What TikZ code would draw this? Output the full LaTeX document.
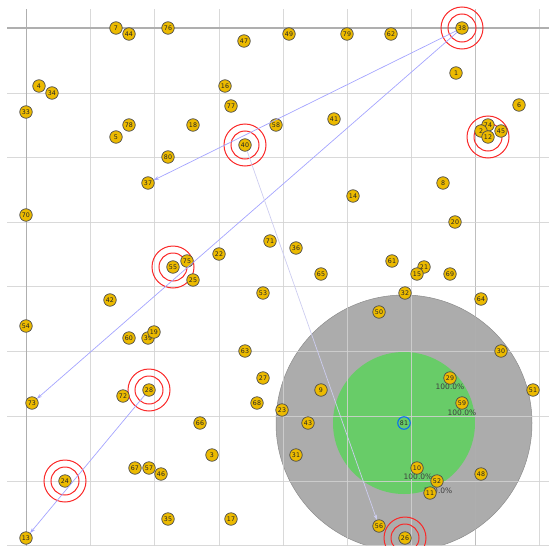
\documentclass[tikz,border=0pt]{standalone}
\usepackage{fontspec}
\setmainfont{DejaVu Sans}
\usetikzlibrary{arrows.meta}
\definecolor{gold}{RGB}{236,186,0}
\definecolor{ringred}{RGB}{250,40,40}
\definecolor{linkblue}{RGB}{165,165,255}
\definecolor{faintblue}{RGB}{205,205,240}
\definecolor{zonegray}{RGB}{172,172,172}
\definecolor{zonegreen}{RGB}{104,204,104}
\definecolor{gridc}{RGB}{210,210,210}
\definecolor{axisc}{RGB}{175,175,175}
\tikzset{
  nd/.style={circle, draw=black!70, fill=gold, line width=0.7pt, minimum size=12.5pt, inner sep=0pt, font=\fontsize{6.3}{6.3}\selectfont, text=black!85},
  hub/.style={nd, fill=zonegreen, draw=blue!60!cyan, line width=1pt},
  pct/.style={font=\fontsize{7.5}{7.5}\selectfont, text=black!75, inner sep=0pt},
  ring/.style={draw=ringred, line width=1pt},
  gridline/.style={draw=gridc, line width=1pt},
  axisline/.style={draw=axisc, line width=1pt},
  link/.style={draw=linkblue, line width=0.7pt, -{Stealth[length=5pt,width=3.5pt]}},
  flink/.style={draw=faintblue, line width=0.7pt, -{Stealth[length=5pt,width=3.5pt]}}
}
\begin{document}
\begin{tikzpicture}[x=1pt,y=-1pt]
\useasboundingbox (0,0) rectangle (549,546);
% coverage zones
\fill[zonegray, draw=black!45, line width=0.5pt] (404,423) circle (128);
\fill[zonegreen] (404,423) circle (71);
% grid
\foreach \x in {90,154,219,283,347,411,539} \draw[gridline, opacity=0.85] (\x,9) -- (\x,546);
\draw[axisline, opacity=0.8] (475,9) -- (475,546);
\foreach \y in {93,157,222,286,351,416,481,545} \draw[gridline, opacity=0.85] (7,\y) -- (549,\y);
\draw[axisline] (26,9) -- (26,546);
\draw[axisline, line width=1.4pt] (7,28) -- (549,28);
% target rings
\foreach \p in {(462,28),(245,145),(488,137),(173,267),(149,390),(65,481),(405,538)} {
  \draw[ring] \p circle (21);
  \draw[ring] \p circle (14);
}
% percentage labels (under nodes)
\node[pct] (p29) at (450,387) {100.0\%};
\node[pct] (p59) at (462,413) {100.0\%};
\node[pct] (p10) at (418,477) {100.0\%};
\node[pct] (p11) at (438,491) {100.0\%};
% nodes
\node[nd] (n7) at (116,28) {7};
\node[nd] (n44) at (129,34) {44};
\node[nd] (n76) at (168,28) {76};
\node[nd] (n47) at (244,41) {47};
\node[nd] (n49) at (289,34) {49};
\node[nd] (n79) at (347,34) {79};
\node[nd] (n62) at (391,34) {62};
\node[nd] (n38) at (462,28) {38};
\node[nd] (n4) at (39,86) {4};
\node[nd] (n34) at (52,93) {34};
\node[nd] (n33) at (26,112) {33};
\node[nd] (n16) at (225,86) {16};
\node[nd] (n1) at (456,73) {1};
\node[nd] (n6) at (519,105) {6};
\node[nd] (n77) at (231,106) {77};
\node[nd] (n78) at (129,125) {78};
\node[nd] (n18) at (193,125) {18};
\node[nd] (n58) at (276,125) {58};
\node[nd] (n41) at (334,119) {41};
\node[nd] (n5) at (116,137) {5};
\node[nd] (n40) at (245,145) {40};
\node[nd] (n74) at (488,125) {74};
\node[nd] (n2) at (481,131) {2};
\node[nd] (n45) at (501,131) {45};
\node[nd] (n12) at (488,137) {12};
\node[nd] (n80) at (168,157) {80};
\node[nd] (n37) at (148,183) {37};
\node[nd] (n8) at (443,183) {8};
\node[nd] (n14) at (353,196) {14};
\node[nd] (n70) at (26,215) {70};
\node[nd] (n20) at (455,222) {20};
\node[nd] (n71) at (270,241) {71};
\node[nd] (n36) at (296,248) {36};
\node[nd] (n22) at (219,254) {22};
\node[nd] (n61) at (392,261) {61};
\node[nd] (n55) at (173,267) {55};
\node[nd] (n75) at (187,261) {75};
\node[nd] (n21) at (424,267) {21};
\node[nd] (n15) at (417,274) {15};
\node[nd] (n69) at (450,274) {69};
\node[nd] (n65) at (321,274) {65};
\node[nd] (n25) at (193,280) {25};
\node[nd] (n53) at (263,293) {53};
\node[nd] (n32) at (405,293) {32};
\node[nd] (n64) at (481,299) {64};
\node[nd] (n42) at (110,300) {42};
\node[nd] (n50) at (379,312) {50};
\node[nd] (n54) at (26,326) {54};
\node[nd] (n60) at (129,338) {60};
\node[nd] (n39) at (148,338) {39};
\node[nd] (n19) at (154,332) {19};
\node[nd] (n63) at (245,351) {63};
\node[nd] (n30) at (501,351) {30};
\node[nd] (n27) at (263,378) {27};
\node[nd] (n29) at (450,378) {29};
\node[nd] (n9) at (321,390) {9};
\node[nd] (n28) at (149,390) {28};
\node[nd] (n51) at (533,390) {51};
\node[nd] (n72) at (123,396) {72};
\node[nd] (n73) at (32,403) {73};
\node[nd] (n68) at (257,403) {68};
\node[nd] (n59) at (462,403) {59};
\node[nd] (n23) at (282,410) {23};
\node[nd] (n66) at (200,423) {66};
\node[nd] (n43) at (308,423) {43};
\node[hub] (n81) at (404,423) {81};
\node[nd] (n3) at (212,455) {3};
\node[nd] (n31) at (296,455) {31};
\node[nd] (n67) at (135,468) {67};
\node[nd] (n57) at (149,468) {57};
\node[nd] (n10) at (417,468) {10};
\node[nd] (n46) at (161,474) {46};
\node[nd] (n48) at (481,474) {48};
\node[nd] (n24) at (65,481) {24};
\node[nd] (n52) at (437,481) {52};
\node[nd] (n11) at (430,493) {11};
\node[nd] (n35) at (168,519) {35};
\node[nd] (n17) at (231,519) {17};
\node[nd] (n56) at (379,526) {56};
\node[nd] (n26) at (405,538) {26};
\node[nd] (n13) at (26,538) {13};
% links
\draw[link] (n38) -- (n37);
\draw[link] (n38) -- (n73);
\draw[link] (n28) -- (n13);
\draw[flink] (n40) -- (n56);
\end{tikzpicture}
\end{document}
